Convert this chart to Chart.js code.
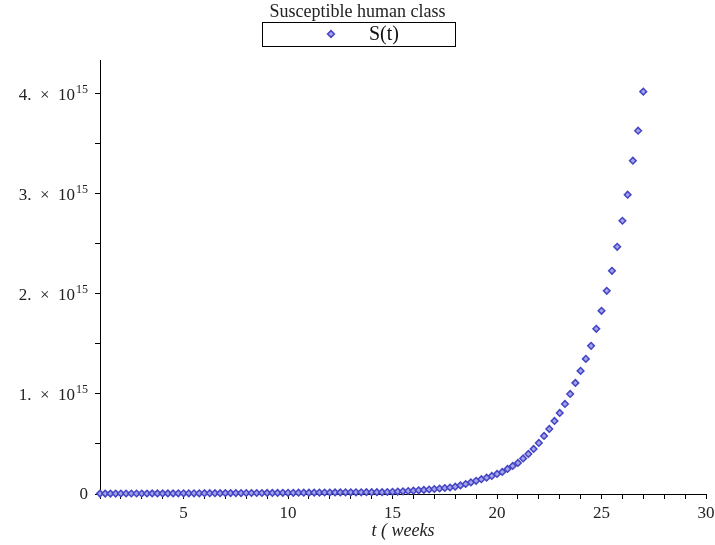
<!DOCTYPE html>
<html>
<head>
<meta charset="utf-8">
<script src="https://cdn.jsdelivr.net/npm/chart.js@4.4.0/dist/chart.umd.min.js"></script>
<style>
  html, body { margin: 0; padding: 0; background: #fff; }
  canvas { display: block; }
</style>
</head>
<body>
<canvas id="chart" width="715" height="545"></canvas>
<script>
// time in weeks
const tWeeks = [
  1, 1.25, 1.5, 1.75, 2, 2.25, 2.5, 2.75,
  3, 3.25, 3.5, 3.75, 4, 4.25, 4.5, 4.75,
  5, 5.25, 5.5, 5.75, 6, 6.25, 6.5, 6.75,
  7, 7.25, 7.5, 7.75, 8, 8.25, 8.5, 8.75,
  9, 9.25, 9.5, 9.75, 10, 10.25, 10.5, 10.75,
  11, 11.25, 11.5, 11.75, 12, 12.25, 12.5, 12.75,
  13, 13.25, 13.5, 13.75, 14, 14.25, 14.5, 14.75,
  15, 15.25, 15.5, 15.75, 16, 16.25, 16.5, 16.75,
  17, 17.25, 17.5, 17.75, 18, 18.25, 18.5, 18.75,
  19, 19.25, 19.5, 19.75, 20, 20.25, 20.5, 20.75,
  21, 21.25, 21.5, 21.75, 22, 22.25, 22.5, 22.75,
  23, 23.25, 23.5, 23.75, 24, 24.25, 24.5, 24.75,
  25, 25.25, 25.5, 25.75, 26, 26.25, 26.5, 26.75,
  27
];

// S(t) in units of 10^15
const susceptible = [
  0.004, 0.004, 0.004, 0.004, 0.005, 0.005, 0.005, 0.005,
  0.005, 0.005, 0.006, 0.006, 0.006, 0.006, 0.006, 0.007,
  0.007, 0.007, 0.007, 0.007, 0.008, 0.008, 0.008, 0.008,
  0.009, 0.009, 0.009, 0.009, 0.010, 0.010, 0.010, 0.010,
  0.011, 0.011, 0.011, 0.012, 0.012, 0.012, 0.013, 0.013,
  0.013, 0.014, 0.014, 0.015, 0.015, 0.016, 0.016, 0.017,
  0.017, 0.017, 0.017, 0.018, 0.018, 0.018, 0.018, 0.020,
  0.022, 0.024, 0.027, 0.030, 0.033, 0.037, 0.041, 0.045,
  0.050, 0.055, 0.060, 0.065, 0.073, 0.086, 0.100, 0.116,
  0.132, 0.148, 0.163, 0.180, 0.200, 0.220, 0.250, 0.280,
  0.310, 0.355, 0.400, 0.450, 0.510, 0.580, 0.650, 0.730,
  0.810, 0.900, 1.000, 1.110, 1.230, 1.350, 1.480, 1.650,
  1.830, 2.030, 2.230, 2.470, 2.730, 2.990, 3.330, 3.630,
  4.020
];

const xMajorTicks = [5, 10, 15, 20, 25, 30];
const yMajorTicks = [0, 1, 2, 3, 4];
const yExponent = '15';
const titleText = 'Susceptible human class';
const seriesLabel = 'S(t)';
const xTitle = 't ( weeks';

const serif = '"Liberation Serif", "DejaVu Serif", serif';
const textColor = '#222';
const markerStroke = '#4444c4';
const markerFill = '#a4a4ea';

// y labels like "4. × 10^15" with a real raised exponent
const yLabels = {
  id: 'yLabels',
  afterDraw(chart) {
    const ctx = chart.ctx;
    const scale = chart.scales.y;
    const right = scale.right - 12;
    ctx.save();
    ctx.fillStyle = textColor;
    ctx.textAlign = 'right';
    ctx.textBaseline = 'middle';
    yMajorTicks.forEach(v => {
      const y = scale.getPixelForValue(v);
      if (v === 0) {
        ctx.font = '17px ' + serif;
        ctx.fillText('0', right, y + 1);
        return;
      }
      ctx.font = '12px ' + serif;
      const expW = ctx.measureText(yExponent).width;
      ctx.fillText(yExponent, right, y - 4);
      ctx.font = '17px ' + serif;
      ctx.fillText(v + '.  \u00d7  10', right - expW - 1, y + 2);
    });
    ctx.restore();
  }
};

// boxed legend under the title, like the original
const boxedLegend = {
  id: 'boxedLegend',
  afterDraw(chart) {
    const ctx = chart.ctx;
    ctx.save();
    ctx.strokeStyle = '#000';
    ctx.lineWidth = 1;
    ctx.strokeRect(262.5, 22.5, 193, 24);
    const mx = 331, my = 34, r = 3.4;
    ctx.beginPath();
    ctx.moveTo(mx, my - r);
    ctx.lineTo(mx + r, my);
    ctx.lineTo(mx, my + r);
    ctx.lineTo(mx - r, my);
    ctx.closePath();
    ctx.fillStyle = markerFill;
    ctx.fill();
    ctx.lineWidth = 1.5;
    ctx.strokeStyle = markerStroke;
    ctx.stroke();
    ctx.fillStyle = '#111';
    ctx.font = '20px ' + serif;
    ctx.textBaseline = 'middle';
    ctx.fillText(seriesLabel, 369, 35);
    ctx.restore();
  }
};

new Chart(document.getElementById('chart'), {
  type: 'scatter',
  data: {
    datasets: [{
      label: seriesLabel,
      data: tWeeks.map((t, i) => ({ x: t, y: susceptible[i] })),
      pointStyle: 'rectRot',
      pointRadius: 3.3,
      pointBorderWidth: 1.5,
      borderColor: markerStroke,
      backgroundColor: markerFill,
      clip: false
    }]
  },
  options: {
    responsive: false,
    animation: false,
    layout: { padding: { left: 0, right: 0, top: 0, bottom: 0 } },
    plugins: {
      legend: { display: false },
      tooltip: { enabled: false },
      title: {
        display: true,
        text: titleText,
        color: textColor,
        font: { family: serif, size: 18, weight: 'normal' },
        padding: { top: 1, bottom: 38 }
      }
    },
    scales: {
      x: {
        type: 'linear',
        min: 1,
        max: 30,
        afterFit(scale) {
          scale.height = 51;
          scale.paddingLeft = 0;
          scale.paddingRight = 9;
        },
        border: { display: true, color: '#000', width: 1 },
        grid: { display: true, drawOnChartArea: false, tickLength: 5, tickColor: '#000' },
        ticks: {
          stepSize: 1,
          includeBounds: false,
          autoSkip: false,
          maxRotation: 0,
          padding: 4,
          color: textColor,
          font: { family: serif, size: 17 },
          callback: v => xMajorTicks.includes(v) ? String(v) : ''
        },
        title: {
          display: true,
          text: xTitle,
          color: textColor,
          font: { family: serif, size: 18, style: 'italic' },
          padding: { top: 0, bottom: 3 }
        }
      },
      y: {
        type: 'linear',
        min: 0,
        max: 4.33,
        afterFit(scale) { scale.width = 100; },
        border: { display: true, color: '#000', width: 1 },
        grid: { display: true, drawOnChartArea: false, tickLength: 5, tickColor: '#000' },
        ticks: {
          stepSize: 0.5,
          includeBounds: false,
          autoSkip: false,
          display: false
        }
      }
    }
  },
  plugins: [yLabels, boxedLegend]
});
</script>
</body>
</html>
